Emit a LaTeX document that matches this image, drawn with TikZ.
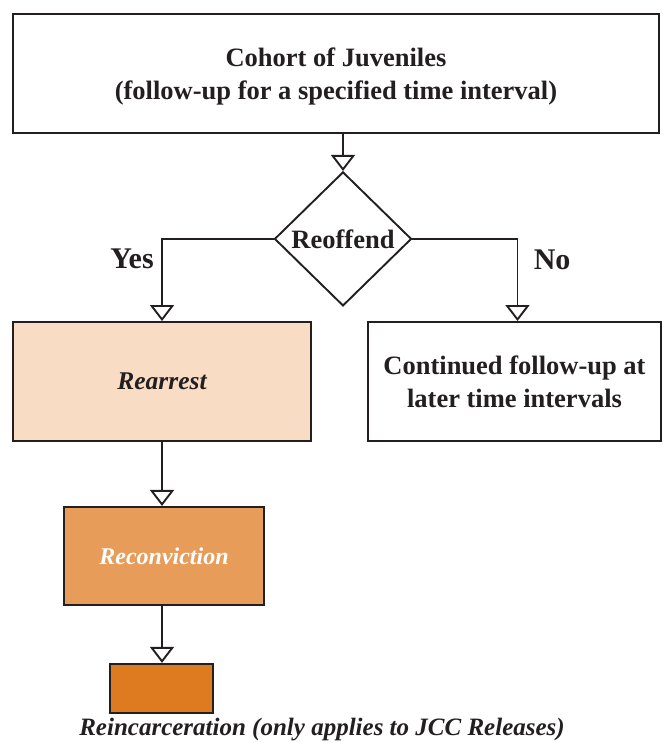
\documentclass[tikz,border=0pt]{standalone}
\usepackage{fontspec}
\setmainfont{Liberation Serif}
\usepackage{tikz}
\usetikzlibrary{shapes.geometric,arrows.meta,positioning}
\definecolor{rearfill}{HTML}{F8DCC4}
\definecolor{convfill}{HTML}{E89C5A}
\definecolor{incfill}{HTML}{DE7A20}
\definecolor{edgecol}{HTML}{231F20}
\begin{document}
\begin{tikzpicture}[
  x=1pt,y=1pt,
  box/.style={rectangle,draw=edgecol,line width=1.9pt,align=center,inner sep=0pt,
              text=edgecol,font=\fontsize{26.5}{33}\selectfont\bfseries},
  cohort/.style={box,fill=white,minimum width=646pt,minimum height=119pt},
  decide/.style={diamond,draw=edgecol,line width=1.9pt,inner sep=0pt,fill=white,
                 minimum width=137pt,minimum height=134pt,text=edgecol,
                 font=\fontsize{26.5}{30}\selectfont\bfseries},
  rear/.style={box,fill=rearfill,minimum width=298pt,minimum height=119pt,
               font=\fontsize{25.5}{30}\selectfont\bfseries\itshape},
  cont/.style={box,fill=white,minimum width=293pt,minimum height=119pt},
  conv/.style={box,fill=convfill,minimum width=200pt,minimum height=98pt,text=white,
               font=\fontsize{24}{28}\selectfont\bfseries\itshape},
  inc/.style={box,fill=incfill,minimum width=103pt,minimum height=49pt},
  lab/.style={font=\fontsize{30}{34}\selectfont\bfseries,text=edgecol},
  arr/.style={-{Triangle[open,length=16pt,width=24pt]},line width=1.9pt,draw=edgecol},
  node distance=37pt
]
\useasboundingbox (0,0) rectangle (662,-743);
\node[cohort] (coh) at (336,-73.5) {\\[-8pt]Cohort of Juveniles\\(follow-up for a specified time interval)};
\node[decide,below=37pt of coh.south,anchor=north,xshift=7pt] (reoff) {Reoffend};
\node[rear] (rearr) at (162,-381.5) {Rearrest};
\node[cont] (cfu) at (514.5,-381.5) {Continued follow-up at\\later time intervals};
\node[conv,below=64pt of rearr,xshift=2pt] (reconv) {Reconviction};
\node[inc,below=57pt of reconv,xshift=-2.5pt] (reinc) {};
\node[font=\fontsize{25}{29}\selectfont\bfseries\itshape,text=edgecol] (note) at (322,-730)
  {Reincarceration (only applies to JCC Releases)};
\draw[arr] (coh.south -| reoff.north) -- (reoff.north);
\draw[arr] (reoff.west) -| node[lab,pos=0.62,left=4pt] {Yes} (rearr.north);
\draw[arr] (reoff.east) -| node[lab,pos=0.63,right=12pt] {No} ([xshift=3pt]cfu.north);
\draw[arr] (rearr.south) -- (rearr.south |- reconv.north);
\draw[arr] (rearr.south |- reconv.south) -- (rearr.south |- reinc.north);
\end{tikzpicture}
\end{document}
